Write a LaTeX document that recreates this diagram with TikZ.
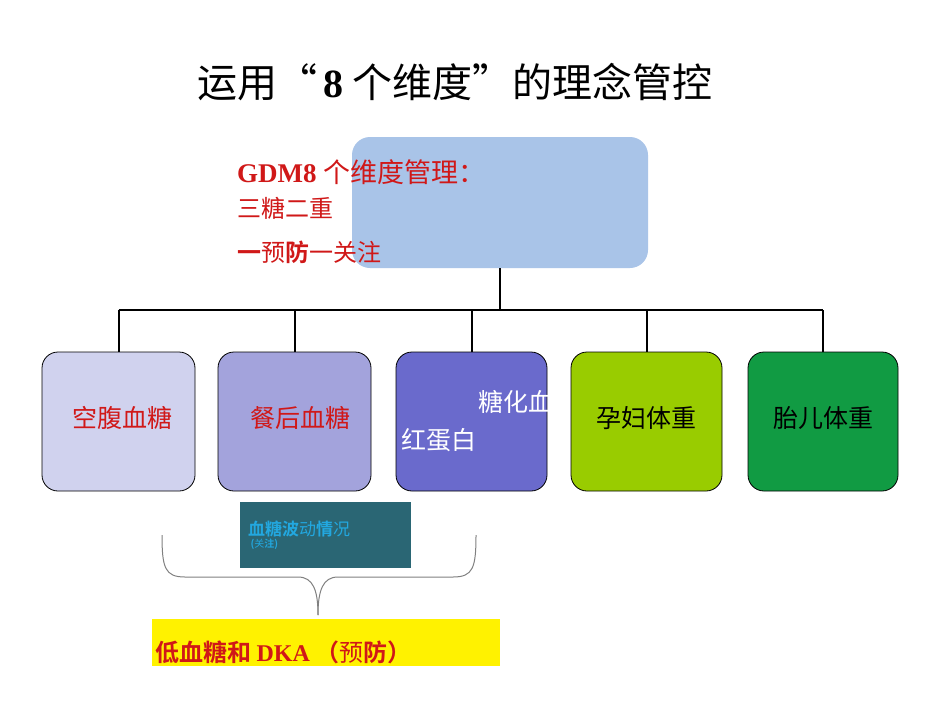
\documentclass[tikz,border=0pt]{standalone}
\usepackage{fontspec}
\setmainfont{Liberation Serif}
\newfontfamily\cjk{Noto Sans CJK SC}
\newfontfamily\cjkb{Noto Sans CJK SC Bold}
\begin{document}
\begin{tikzpicture}[x=1pt,y=-1pt,
  box/.style={draw=black,line width=0.8pt,rounded corners=16pt},
  conn/.style={line width=2.5pt},
  lbl/.style={font=\cjk\fontsize{25}{25}\selectfont,anchor=center,inner sep=0}]
\useasboundingbox (0,0) rectangle (950,713);
\fill[white] (0,0) rectangle (950,713);
\node[anchor=center,inner sep=0] (title) at (455,82) {\fontsize{40}{40}\selectfont\cjk 运用“\,\textbf{\rmfamily 8} 个维度”的理念管控};
\fill[fill={rgb,255:red,169;green,196;blue,232},rounded corners=18pt] (352,137) rectangle (648,268);
\coordinate (top) at (500,268);
\coordinate (hub) at (500,310);
\foreach \n/\xa/\xb/\col in {a/42/195/D0D2EE,b/218/371/A3A3DC,c/396/547/6A6ACC,d/571/722/99CC00,e/748/898/119B43}{
  \definecolor{tmp}{HTML}{\col}
  \draw[box,fill=tmp] (\xa,352) rectangle (\xb,491);
  \coordinate (\n) at ({(\xa+\xb)/2},352);
}
\draw[conn] (top) -- (hub);
\draw[line width=2pt] (a |- hub) -- (e |- hub);
\foreach \n in {a,b,c,d,e}{\draw[line width=2pt] (\n |- hub) -- (\n);}
\definecolor{rd}{HTML}{D01818}
\node[lbl,text=rd] (ta) at (122,418) {空腹血糖};
\node[lbl,text=rd] (tb) at (300,418) {餐后血糖};
\begin{scope}
\clip (396,352) rectangle (547,491);
\node[lbl,text=white,anchor=west] (tc1) at (478,402) {糖化血};
\node[lbl,text=white,anchor=east] (tc2) at (477,440) {红蛋白};
\end{scope}
\node[lbl] (td) at (646,418) {孕妇体重};
\node[lbl] (te) at (823,418) {胎儿体重};
\node[anchor=west,inner sep=0,text=rd] (g1) at (237,172) {\fontsize{27}{27}\selectfont\textbf{GDM8} \cjk 个维度管理：};
\node[anchor=west,inner sep=0,text=rd] (g2) at (237,208) {\fontsize{24}{24}\selectfont\cjk 三糖二重};
\node[anchor=west,inner sep=0,text=rd] (g3) at (237,252) {\fontsize{24}{24}\selectfont\cjkb 一\cjk 预\cjkb 防\cjk 一关注};
\fill[fill={rgb,255:red,42;green,102;blue,116}] (240,502) rectangle (411,568);
\definecolor{lb}{HTML}{22A8E0}
\node[anchor=west,inner sep=0,text=lb,align=left] (w) at (248,535) {\fontsize{17}{22}\selectfont\cjkb 血糖波\cjk 动\cjkb 情\cjk 况\\ \ \cjkb (\cjk 关\cjkb 注)};
\draw[gray,line width=1pt] (162,535) .. controls (162,568) and (165,577) .. (185,577) -- (298,577) .. controls (313,577) and (318,590) .. (318,615);
\draw[gray,line width=1pt] (476,535) .. controls (476,568) and (473,577) .. (453,577) -- (338,577) .. controls (323,577) and (318,590) .. (318,615);
\coordinate (tip) at (318,615);
\fill[yellow] (152,619) rectangle (500,666);
\node[anchor=west,inner sep=0,text=rd] (y) at (155,652) {\fontsize{24}{24}\selectfont\cjkb 低血糖和 \textbf{\rmfamily DKA} （\cjk 预\cjkb 防）};
\end{tikzpicture}
\end{document}
